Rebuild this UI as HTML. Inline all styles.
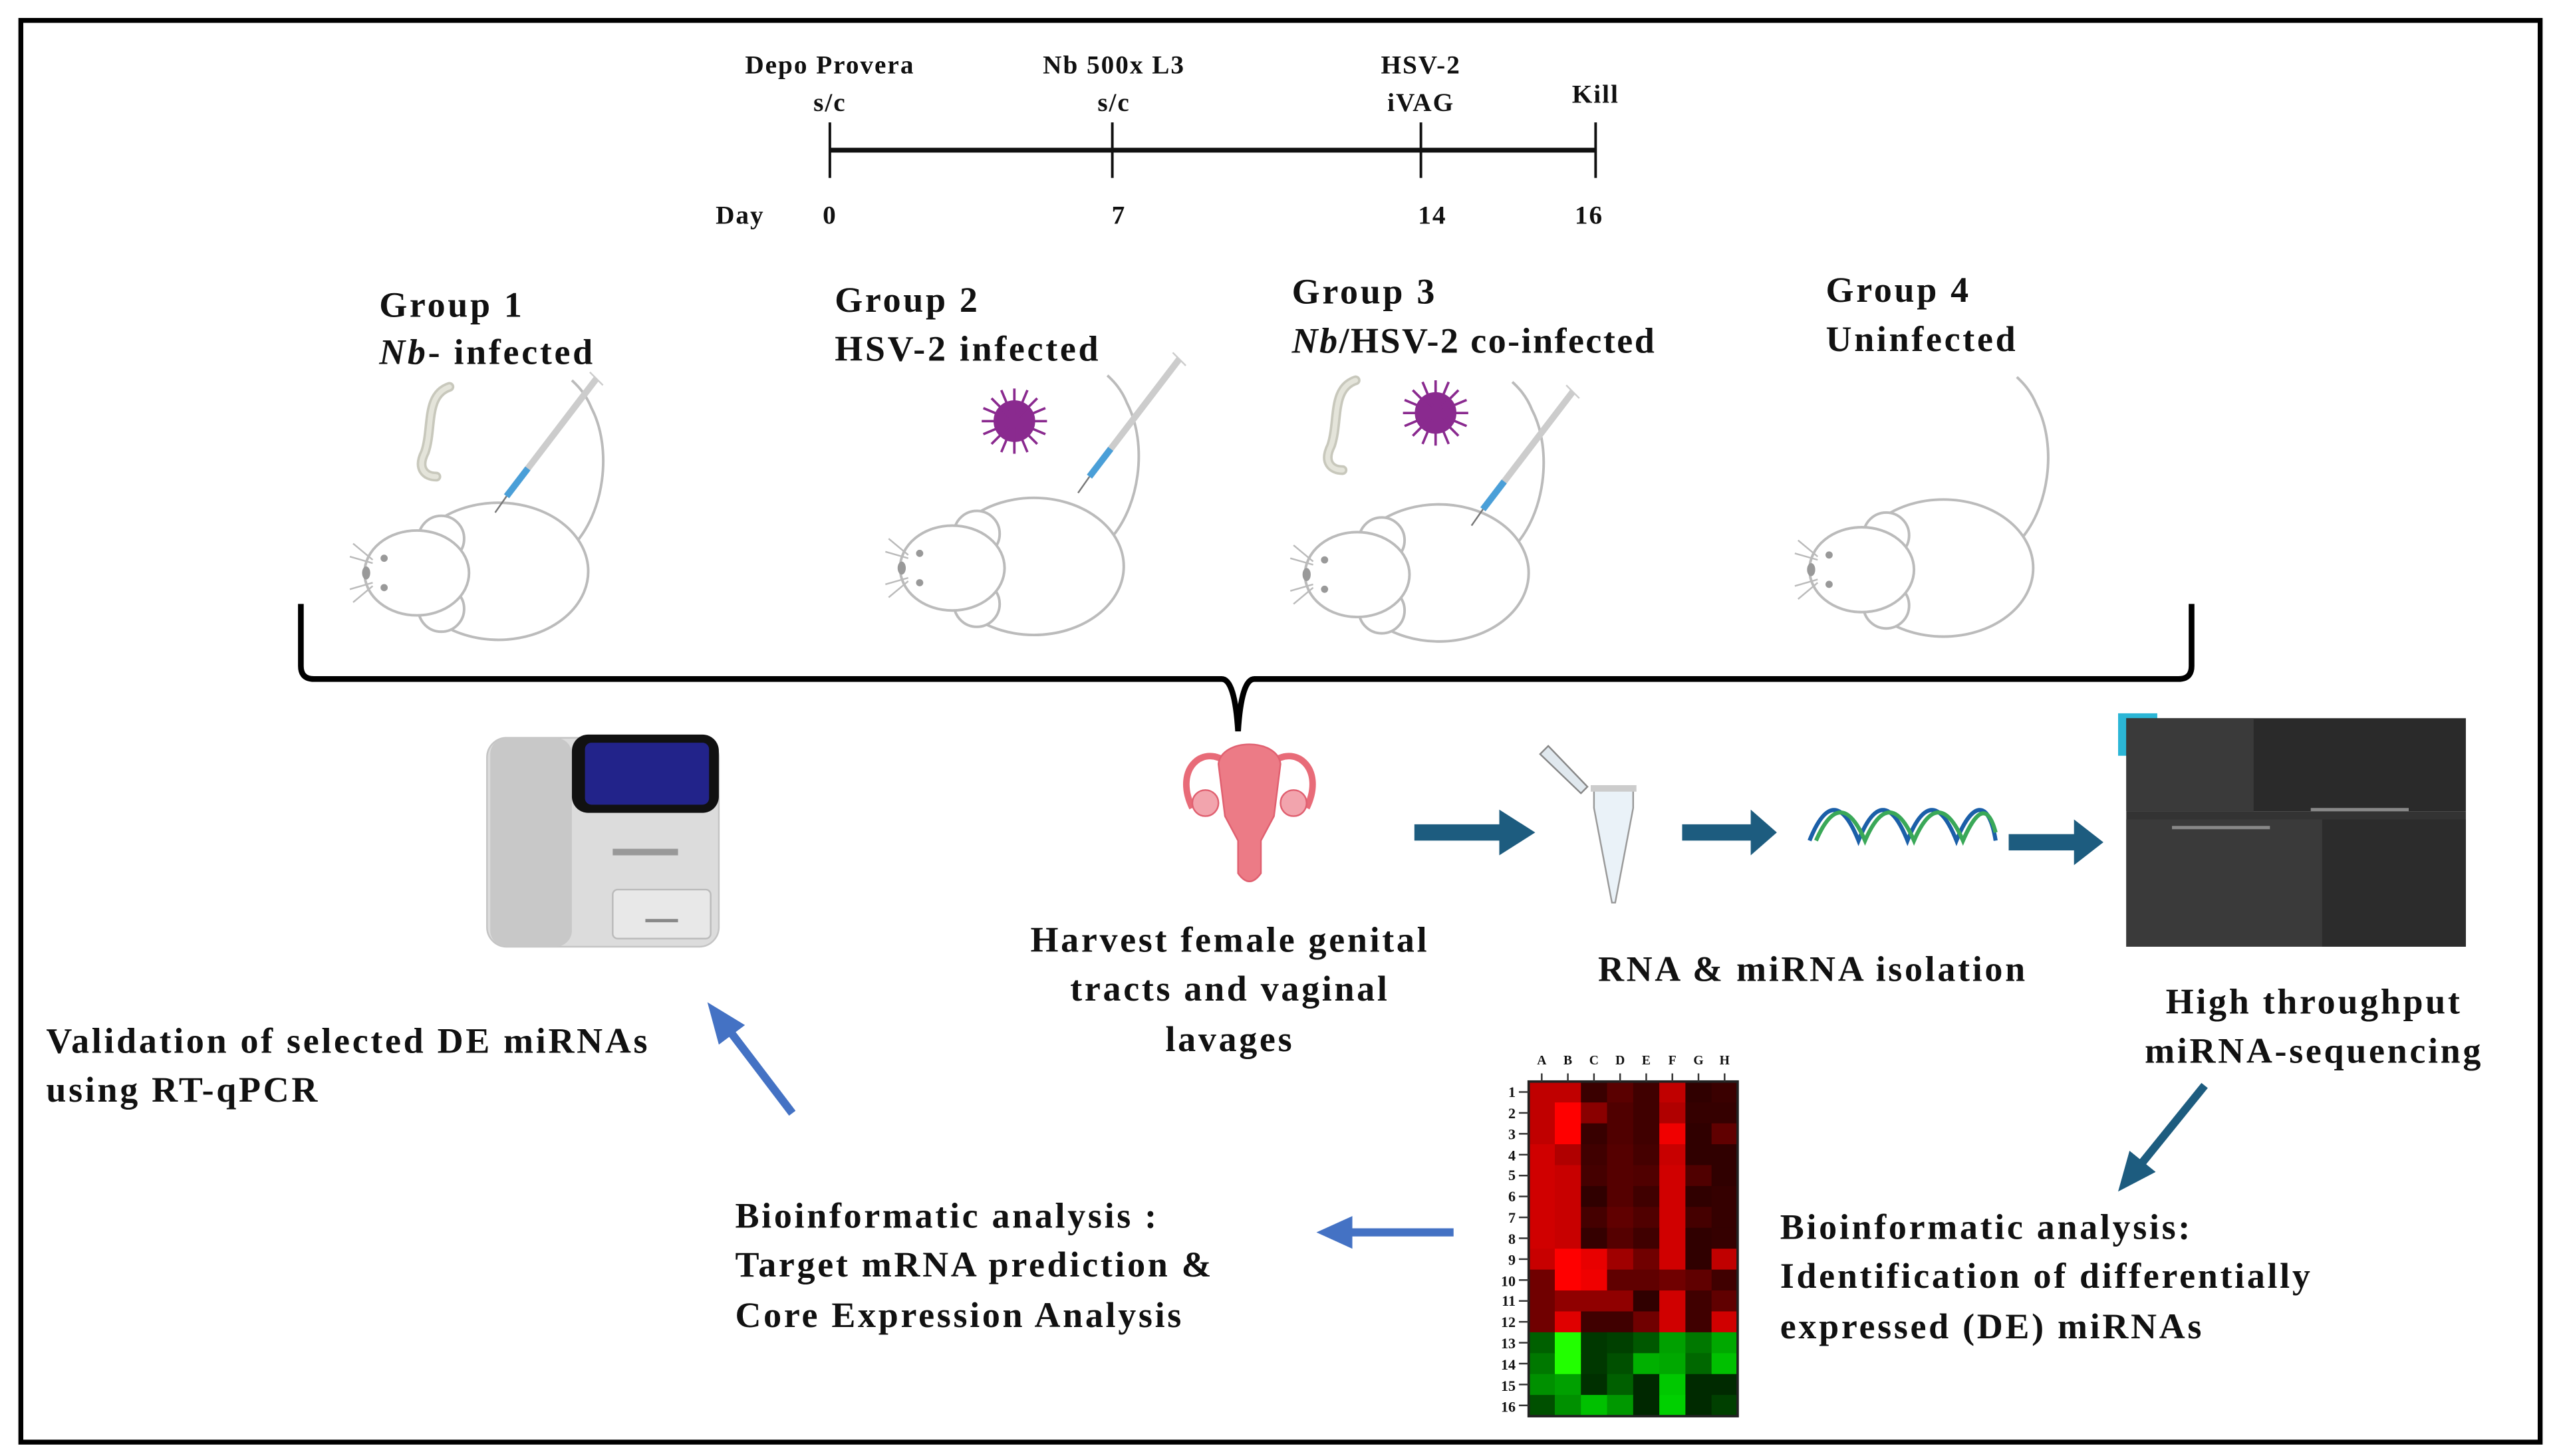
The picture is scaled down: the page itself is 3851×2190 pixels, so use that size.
<!DOCTYPE html>
<html><head><meta charset="utf-8"><style>
html,body{margin:0;padding:0;background:#fff}
svg{display:block}
text{font-family:"Liberation Serif",serif;font-weight:bold;fill:#111}
.t{font-size:22px;letter-spacing:1.5px}
.s{font-size:16px;letter-spacing:0.8px}
</style></head><body>
<svg width="3851" height="2190" viewBox="0 0 1568 892" xmlns="http://www.w3.org/2000/svg">
<defs>
<g id="mouse" fill="#fff" stroke="#bbb" stroke-width="1.6">
  <path d="M60,-10 C80,-30 85,-70 72,-95 C68,-105 62,-110 60,-112" fill="none"/>
  <ellipse cx="15" cy="5" rx="55" ry="42"/>
  <circle cx="-20" cy="-15" r="14"/>
  <circle cx="-20" cy="28" r="14"/>
  <ellipse cx="-35" cy="6" rx="32" ry="26"/>
  <circle cx="-55" cy="-3" r="2.2" fill="#999" stroke="none"/>
  <circle cx="-55" cy="15" r="2.2" fill="#999" stroke="none"/>
  <ellipse cx="-66" cy="6" rx="2.5" ry="4" fill="#999" stroke="none"/>
  <path d="M-62,-2 l-12,-10 M-62,0 l-14,-4 M-62,14 l-12,10 M-62,12 l-14,4" fill="none" stroke-width="1"/>
</g>
<g id="virus" stroke="#8a2a8f" stroke-width="1.5" fill="#8a2a8f">
  <circle r="12"/>
  <path d="M0,-20V20M-20,0H20M-14,-14L14,14M-14,14L14,-14M-8,-19L8,19M-19,-8L19,8M8,-19L-8,19M19,-8L-19,8"/>
</g>
<g id="worm"><path d="M20,0 C5,5 10,25 5,40 C0,50 5,55 12,55" fill="none" stroke="#c8c8bc" stroke-width="6" stroke-linecap="round"/><path d="M20,0 C5,5 10,25 5,40 C0,50 5,55 12,55" fill="none" stroke="#e4e4da" stroke-width="3" stroke-linecap="round"/></g>
<g id="syr"><line x1="0" y1="0" x2="-55" y2="72" stroke="#ccc" stroke-width="4"/><line x1="-42" y1="55" x2="-55" y2="72" stroke="#4a9fd8" stroke-width="4"/><line x1="-55" y1="72" x2="-62" y2="82" stroke="#777" stroke-width="1"/><line x1="-4" y1="-4" x2="4" y2="4" stroke="#ccc" stroke-width="1"/></g>
</defs>
<rect x="0" y="0" width="1568" height="892" fill="#fff"/>
<rect x="12.5" y="12.5" width="1543" height="871" fill="none" stroke="#000" stroke-width="3"/>

<!-- timeline -->
<g class="s">
<text class="s" x="508" y="45" text-anchor="middle">Depo Provera</text>
<text class="s" x="508" y="68" text-anchor="middle">s/c</text>
<text class="s" x="682" y="45" text-anchor="middle">Nb 500x L3</text>
<text class="s" x="682" y="68" text-anchor="middle">s/c</text>
<text class="s" x="870" y="45" text-anchor="middle">HSV-2</text>
<text class="s" x="870" y="68" text-anchor="middle">iVAG</text>
<text class="s" x="977" y="63" text-anchor="middle">Kill</text>
<text class="s" x="453" y="137" text-anchor="middle">Day</text>
<text class="s" x="508" y="137" text-anchor="middle">0</text>
<text class="s" x="685" y="137" text-anchor="middle">7</text>
<text class="s" x="877" y="137" text-anchor="middle">14</text>
<text class="s" x="973" y="137" text-anchor="middle">16</text>
</g>
<g stroke="#111" stroke-width="1.6">
<line x1="508" y1="92" x2="977" y2="92" stroke-width="3"/>
<line x1="508" y1="75" x2="508" y2="109"/><line x1="681" y1="75" x2="681" y2="109"/>
<line x1="870" y1="75" x2="870" y2="109"/><line x1="977" y1="75" x2="977" y2="109"/>
</g>

<!-- groups -->
<text class="t" x="232" y="194">Group  1</text>
<text class="t" x="232" y="223"><tspan font-style="italic">Nb</tspan>- infected</text>
<text class="t" x="511" y="191">Group  2</text>
<text class="t" x="511" y="221">HSV-2 infected</text>
<text class="t" x="791" y="186">Group  3</text>
<text class="t" x="791" y="216" style="letter-spacing:1px"><tspan font-style="italic">Nb</tspan>/HSV-2 co-infected</text>
<text class="t" x="1118" y="185">Group  4</text>
<text class="t" x="1118" y="215">Uninfected</text>

<use href="#mouse" x="290" y="345"/>
<use href="#mouse" x="618" y="342"/>
<use href="#mouse" x="866" y="346"/>
<use href="#mouse" x="1175" y="343"/>
<use href="#worm" x="255" y="237"/>
<use href="#syr" x="365" y="232"/>
<use href="#virus" x="621" y="258"/>
<use href="#syr" x="722" y="220"/>
<use href="#worm" x="810" y="233"/>
<use href="#virus" x="879" y="253"/>
<use href="#syr" x="963" y="240"/>

<!-- brace -->
<path d="M184,370 V408 Q184,416 192,416 H748 Q756,416 758,448 Q760,416 768,416 H1334 Q1342,416 1342,408 V370" fill="none" stroke="#000" stroke-width="3.5"/>

<!-- qPCR machine -->
<rect x="298" y="452" width="142" height="128" rx="12" fill="#dcdcdc" stroke="#c4c4c4"/>
<rect x="300" y="452" width="50" height="128" rx="10" fill="#c8c8c8"/>
<rect x="350" y="450" width="90" height="48" rx="10" fill="#111"/>
<rect x="358" y="455" width="76" height="38" rx="4" fill="#22238a"/>
<rect x="375" y="520" width="40" height="4" fill="#999"/>
<rect x="375" y="545" width="60" height="30" rx="3" fill="#e8e8e8" stroke="#bbb"/>
<rect x="395" y="563" width="20" height="2" fill="#888"/>

<!-- uterus -->
<g fill="#ec7b86" stroke="#e06070" stroke-width="1">
<path d="M730,495 C718,470 738,455 752,468 C758,478 772,478 778,468 C792,455 812,470 800,495" fill="none" stroke="#e86b78" stroke-width="4"/>
<path d="M746,468 C748,452 782,452 784,468 L780,500 L772,515 L772,535 Q765,545 758,535 L758,515 L750,500 Z"/>
<circle cx="738" cy="492" r="8" fill="#f2a4ad"/>
<circle cx="792" cy="492" r="8" fill="#f2a4ad"/>
</g>

<!-- teal arrows -->
<g fill="#1d5c7f">
<path d="M866,505 H918 V496 L940,510 L918,524 V515 H866 Z"/>
<path d="M1030,505 H1072 V496 L1088,510 L1072,524 V515 H1030 Z"/>
<path d="M1230,511 H1270 V502 L1288,516 L1270,530 V521 H1230 Z"/>
</g>

<!-- tube -->
<path d="M943,462 L948,457 L972,482 L968,486 Z" fill="#e0e8ee" stroke="#888" stroke-width="1"/>
<path d="M976,483 H1000 V495 L989,553 L987,553 L976,495 Z" fill="#eaf2f8" stroke="#999" stroke-width="1"/>
<rect x="974" y="481" width="28" height="4" fill="#ccc"/>

<!-- DNA -->
<path d="M1108,515 C1118,490 1128,490 1138,515 C1148,490 1158,490 1168,515 C1178,490 1188,490 1198,515 C1208,490 1218,490 1222,515" fill="none" stroke="#1b5fa8" stroke-width="2.5"/>
<path d="M1112,515 C1122,492 1132,492 1142,515 C1152,492 1162,492 1172,515 C1182,492 1192,492 1202,515 C1212,492 1218,495 1222,510" fill="none" stroke="#3aa858" stroke-width="2.5"/>

<!-- sequencer -->
<rect x="1297" y="437" width="24" height="26" fill="#2bb6d6"/>
<rect x="1302" y="440" width="208" height="57" fill="#2a2a2a"/>
<rect x="1302" y="440" width="78" height="57" fill="#3a3a3a"/>
<rect x="1302" y="497" width="208" height="83" fill="#333"/>
<rect x="1302" y="502" width="120" height="78" fill="#3a3a3a"/>
<rect x="1422" y="502" width="88" height="78" fill="#2c2c2c"/>
<rect x="1330" y="506" width="60" height="2" fill="#888"/>
<rect x="1415" y="495" width="60" height="2" fill="#888"/>

<!-- texts -->
<text class="t" x="753" y="583" text-anchor="middle">Harvest female genital</text>
<text class="t" x="753" y="613" text-anchor="middle">tracts and vaginal</text>
<text class="t" x="753" y="644" text-anchor="middle">lavages</text>
<text class="t" x="1110" y="601" text-anchor="middle">RNA &amp; miRNA isolation</text>
<text class="t" x="1417" y="621" text-anchor="middle">High throughput</text>
<text class="t" x="1417" y="651" text-anchor="middle">miRNA-sequencing</text>
<text class="t" x="28" y="645">Validation  of selected DE miRNAs</text>
<text class="t" x="28" y="675">using RT-qPCR</text>
<text class="t" x="450" y="752">Bioinformatic  analysis  :</text>
<text class="t" x="450" y="782">Target mRNA prediction  &amp;</text>
<text class="t" x="450" y="813">Core Expression  Analysis</text>
<text class="t" x="1090" y="759">Bioinformatic  analysis:</text>
<text class="t" x="1090" y="789">Identification  of differentially</text>
<text class="t" x="1090" y="820">expressed  (DE) miRNAs</text>

<!-- connector arrows -->
<g stroke="#4472c4" stroke-width="5" fill="#4472c4">
<line x1="485" y1="682" x2="447" y2="632"/>
<path d="M433,614 L456,628 L440,640 Z" stroke="none"/>
<line x1="890" y1="755" x2="826" y2="755"/>
<path d="M806,755 L828,745 L828,765 Z" stroke="none"/>
</g>
<g stroke="#1d5c7f" stroke-width="5" fill="#1d5c7f">
<line x1="1350" y1="665" x2="1312" y2="712"/>
<path d="M1297,730 L1304,705 L1320,718 Z" stroke="none"/>
</g>

<!-- heatmap -->
<g font-size="8" font-weight="normal" fill="#555">
<text x="944" y="652" text-anchor="middle">A</text><text x="960" y="652" text-anchor="middle">B</text>
<text x="976" y="652" text-anchor="middle">C</text><text x="992" y="652" text-anchor="middle">D</text>
<text x="1008" y="652" text-anchor="middle">E</text><text x="1024" y="652" text-anchor="middle">F</text>
<text x="1040" y="652" text-anchor="middle">G</text><text x="1056" y="652" text-anchor="middle">H</text>
</g>
<g font-size="9" font-weight="normal">
<text x="928" y="672" text-anchor="end">1</text><text x="928" y="685" text-anchor="end">2</text>
<text x="928" y="698" text-anchor="end">3</text><text x="928" y="711" text-anchor="end">4</text>
<text x="928" y="723" text-anchor="end">5</text><text x="928" y="736" text-anchor="end">6</text>
<text x="928" y="749" text-anchor="end">7</text><text x="928" y="762" text-anchor="end">8</text>
<text x="928" y="775" text-anchor="end">9</text><text x="928" y="788" text-anchor="end">10</text>
<text x="928" y="800" text-anchor="end">11</text><text x="928" y="813" text-anchor="end">12</text>
<text x="928" y="826" text-anchor="end">13</text><text x="928" y="839" text-anchor="end">14</text>
<text x="928" y="852" text-anchor="end">15</text><text x="928" y="865" text-anchor="end">16</text>
</g>
<g transform="translate(936,662.6)"><g id="cells"></g></g>
<script>
(function(){
var R=[["c0","c0","3a","5a","40","c0","30","3a"],
["c0","ff","8a","50","40","b0","35","35"],
["c0","ff","38","50","40","f0","30","60"],
["d0","b0","40","55","45","c8","30","30"],
["d0","c8","45","55","50","d0","50","30"],
["d0","c8","30","55","40","d0","30","35"],
["d0","c8","45","60","50","d0","45","35"],
["d0","c8","35","55","40","d0","30","35"],
["c8","ff","e8","a0","70","d0","30","c0"],
["70","ff","f0","60","60","70","60","40"],
["70","90","90","90","30","d0","40","60"],
["70","e0","40","40","70","d0","40","d0"]];
var G=[["60","f0","38","40","58","a0","78","a8"],
["78","f0","38","50","b0","a8","68","c0"],
["90","a0","30","60","28","c8","2a","2a"],
["50","90","c0","98","28","d0","2a","40"]];
var ns="http://www.w3.org/2000/svg",g=document.getElementById("cells"),w=16,h=12.8;
for(var r=0;r<16;r++)for(var c=0;c<8;c++){
 var col=r<12?("#"+R[r][c]+"0000"):(r==13&&c==1||r==12&&c==1?"#22ff00":"#00"+G[r-12][c]+"00");
 var e=document.createElementNS(ns,"rect");
 e.setAttribute("x",c*w);e.setAttribute("y",r*h);e.setAttribute("width",w+0.3);e.setAttribute("height",h+0.3);
 e.setAttribute("fill",col);g.appendChild(e);}
var b=document.createElementNS(ns,"rect");
b.setAttribute("x",0);b.setAttribute("y",0);b.setAttribute("width",128);b.setAttribute("height",205);
b.setAttribute("fill","none");b.setAttribute("stroke","#222");b.setAttribute("stroke-width","1.5");g.appendChild(b);
for(var i=0;i<16;i++){var l=document.createElementNS(ns,"line");l.setAttribute("x1",-6);l.setAttribute("x2",0);l.setAttribute("y1",i*h+h/2);l.setAttribute("y2",i*h+h/2);l.setAttribute("stroke","#333");g.appendChild(l);}
for(var j=0;j<8;j++){var l2=document.createElementNS(ns,"line");l2.setAttribute("x1",j*w+w/2);l2.setAttribute("x2",j*w+w/2);l2.setAttribute("y1",-5);l2.setAttribute("y2",0);l2.setAttribute("stroke","#333");g.appendChild(l2);}
})();
</script>
</svg>
</body></html>
